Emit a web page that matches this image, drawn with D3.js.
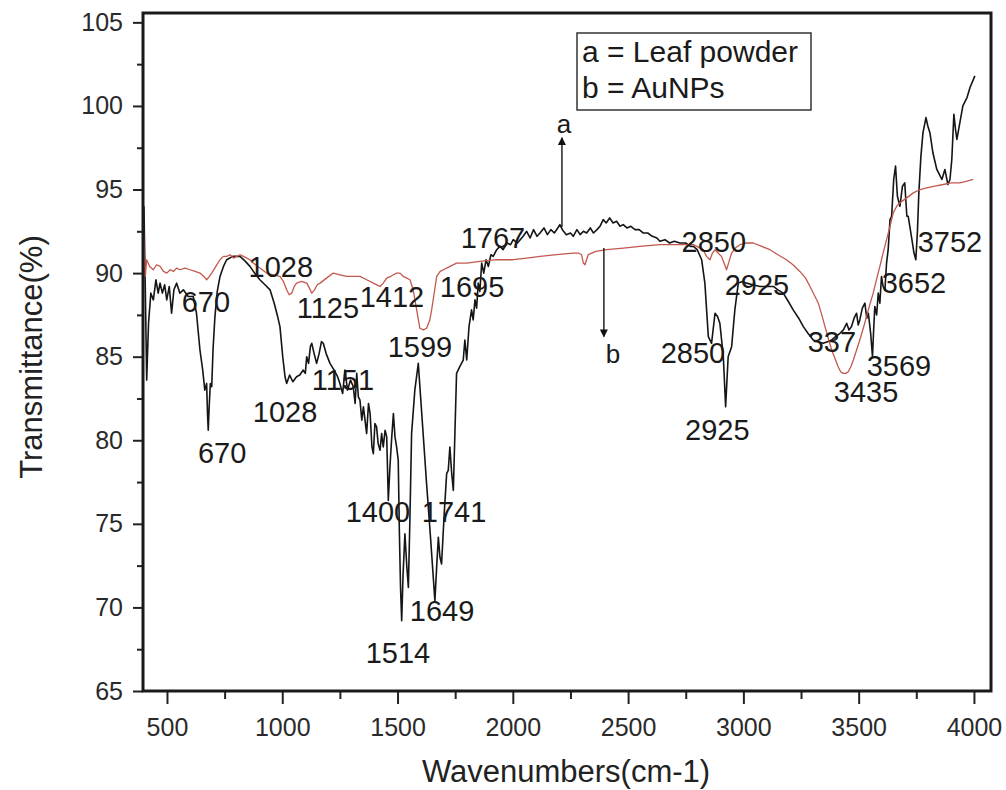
<!DOCTYPE html>
<html>
<head>
<meta charset="utf-8">
<script src="https://cdn.jsdelivr.net/npm/d3@7"></script>
<style>
  body { margin: 0; background: #fff; }
  svg { display: block; font-family: "Liberation Sans", Arial, sans-serif; }
</style>
</head>
<body>
<div id="chart"></div>
<script>
// FTIR spectra: [wavenumber, transmittance]
const leafPowder = [
  [400,94.0],[406,89.0],[412,83.6],[420,87.0],[430,88.8],[441,88.4],[452,89.6],[462,88.8],[470,89.4],[480,88.8],
  [490,89.3],[499,88.4],[510,89.2],[520,87.6],[530,89.0],[542,89.4],[556,88.8],[571,89.0],[592,88.6],[614,88.6],
  [628,87.6],[643,85.4],[655,84.2],[664,83.0],[672,83.4],[676,81.5],[679,80.6],[683,82.0],[688,83.4],[694,83.2],
  [700,85.5],[708,87.4],[718,88.9],[730,89.8],[745,90.4],[759,90.8],[785,91.0],[817,91.0],[840,90.7],[860,90.4],
  [880,90.0],[903,89.6],[925,89.3],[947,89.0],[965,88.2],[980,87.4],[990,86.8],[1002,85.0],[1012,83.8],[1019,83.4],
  [1032,83.9],[1046,83.5],[1062,83.8],[1076,83.9],[1091,84.2],[1100,84.0],[1106,85.0],[1114,84.6],[1122,85.6],[1128,85.8],
  [1138,85.2],[1149,84.6],[1160,85.2],[1170,85.9],[1178,85.8],[1190,85.2],[1207,84.6],[1225,84.2],[1240,83.8],[1250,83.4],
  [1262,82.8],[1272,84.2],[1283,83.0],[1296,83.6],[1308,83.2],[1316,82.2],[1323,84.0],[1330,82.6],[1337,82.4],[1345,81.2],
  [1352,82.0],[1366,80.4],[1374,82.2],[1381,81.6],[1389,79.6],[1395,79.2],[1402,81.0],[1409,80.8],[1416,79.8],[1424,79.4],
  [1431,80.4],[1438,79.6],[1446,80.6],[1453,80.2],[1460,76.4],[1467,78.4],[1474,80.0],[1482,81.6],[1489,80.2],[1496,79.6],
  [1503,78.8],[1508,74.5],[1513,71.2],[1518,69.2],[1524,72.0],[1532,74.4],[1540,72.5],[1547,71.2],[1554,75.5],[1561,80.4],
  [1575,83.0],[1590,84.6],[1608,81.0],[1626,77.4],[1644,74.0],[1662,70.4],[1670,72.5],[1677,74.2],[1684,73.0],[1691,72.6],
  [1702,75.5],[1713,78.0],[1720,78.2],[1727,79.6],[1735,78.0],[1742,77.0],[1749,80.5],[1756,84.0],[1770,84.4],[1785,84.8],
  [1792,86.0],[1800,84.8],[1810,86.8],[1821,87.8],[1828,87.2],[1836,88.4],[1843,87.9],[1850,89.4],[1857,88.9],[1865,90.6],
  [1874,90.0],[1884,90.8],[1894,90.4],[1905,91.1],[1915,91.0],[1930,91.4],[1944,91.6],[1958,91.4],[1975,91.8],[1990,91.7],
  [2002,92.0],[2020,91.8],[2045,92.2],[2060,92.5],[2075,92.1],[2090,92.6],[2105,92.2],[2118,92.4],[2135,92.7],[2150,92.3],
  [2165,92.6],[2180,92.4],[2195,92.7],[2204,92.9],[2215,92.6],[2232,92.3],[2250,92.4],[2262,92.2],[2278,92.6],[2292,92.3],
  [2306,92.5],[2320,92.4],[2336,92.7],[2350,92.4],[2365,92.6],[2378,92.8],[2392,93.2],[2405,93.0],[2420,93.3],[2435,93.0],
  [2450,93.1],[2465,92.8],[2479,92.9],[2495,92.7],[2512,92.8],[2530,92.6],[2548,92.6],[2565,92.4],[2585,92.4],[2605,92.2],
  [2625,92.1],[2638,91.9],[2660,92.0],[2680,91.8],[2700,91.9],[2725,91.8],[2750,91.8],[2770,91.6],[2783,91.6],[2800,91.4],
  [2819,90.8],[2833,89.4],[2848,86.2],[2862,85.8],[2877,87.6],[2888,87.4],[2898,87.0],[2913,85.0],[2923,82.0],[2934,85.0],
  [2949,85.6],[2963,87.8],[2978,89.4],[2995,89.5],[3014,89.4],[3040,89.3],[3072,89.2],[3100,89.2],[3130,89.2],[3150,89.0],
  [3173,88.8],[3195,88.3],[3216,87.8],[3240,87.3],[3260,86.8],[3280,86.4],[3303,86.0],[3325,85.9],[3346,85.8],[3365,85.9],
  [3383,86.0],[3400,86.2],[3419,86.4],[3434,86.6],[3448,87.0],[3458,86.6],[3469,86.8],[3480,87.3],[3491,87.6],[3498,86.9],
  [3505,87.2],[3516,87.9],[3527,88.2],[3535,87.3],[3542,87.6],[3552,86.4],[3560,85.0],[3565,86.6],[3570,88.0],[3578,87.5],
  [3585,88.8],[3592,88.2],[3599,89.8],[3606,89.2],[3614,89.0],[3621,90.6],[3628,91.4],[3636,93.2],[3643,93.4],[3652,95.6],
  [3660,96.4],[3668,94.6],[3679,94.0],[3690,95.2],[3700,95.4],[3709,93.4],[3715,93.4],[3731,92.0],[3740,91.2],[3748,90.8],
  [3755,92.5],[3761,94.8],[3770,97.0],[3779,98.4],[3792,99.3],[3800,98.8],[3809,98.4],[3822,97.2],[3839,96.2],[3850,95.9],
  [3861,95.6],[3874,96.2],[3887,95.3],[3896,95.6],[3904,96.8],[3913,99.5],[3920,98.6],[3926,98.0],[3939,99.0],[3952,100.0],
  [3970,100.5],[3983,101.1],[4004,101.8]
]

const auNPs = [
  [398,92.6],[402,91.0],[406,89.8],[412,90.8],[425,90.4],[441,90.2],[455,90.5],[470,90.4],[485,90.1],[499,90.0],
  [514,90.2],[528,90.1],[542,90.3],[556,90.2],[578,90.3],[600,90.2],[622,90.1],[643,90.0],[660,89.8],[672,89.6],
  [684,89.8],[694,90.0],[712,90.4],[730,90.8],[745,91.0],[759,91.0],[774,91.1],[788,90.9],[803,91.0],[817,91.1],
  [832,91.0],[846,90.9],[860,90.8],[874,90.6],[903,90.3],[932,90.0],[960,89.9],[990,89.8],[1005,89.5],[1019,89.0],
  [1030,88.7],[1041,88.8],[1052,89.2],[1062,89.4],[1084,89.5],[1106,89.4],[1118,89.1],[1128,88.8],[1140,89.0],[1152,89.3],
  [1164,89.4],[1192,89.7],[1221,90.0],[1250,89.9],[1279,89.8],[1308,89.8],[1337,89.8],[1366,89.6],[1395,89.4],[1410,89.3],
  [1424,89.2],[1438,89.4],[1453,89.7],[1470,89.8],[1482,89.9],[1496,90.0],[1511,90.0],[1525,89.8],[1540,89.7],[1554,89.6],
  [1568,89.0],[1583,87.8],[1597,86.7],[1612,86.6],[1626,86.7],[1640,87.2],[1648,87.8],[1660,88.9],[1670,89.8],[1685,90.1],
  [1699,90.2],[1728,90.4],[1756,90.6],[1800,90.6],[1857,90.7],[1930,90.8],[2002,90.8],[2060,90.9],[2118,91.0],[2190,91.1],
  [2262,91.2],[2285,91.2],[2298,91.1],[2306,90.6],[2313,90.5],[2320,90.8],[2327,91.1],[2360,91.3],[2407,91.4],[2480,91.5],
  [2551,91.6],[2638,91.7],[2700,91.7],[2783,91.7],[2826,91.4],[2840,91.0],[2855,90.8],[2866,91.2],[2877,91.4],[2890,91.2],
  [2905,91.0],[2916,90.6],[2927,90.2],[2938,90.7],[2949,91.2],[2965,91.5],[2985,91.7],[3010,91.8],[3043,91.8],[3080,91.6],
  [3115,91.4],[3150,91.1],[3187,90.8],[3215,90.5],[3245,90.1],[3270,89.7],[3289,89.2],[3307,88.7],[3325,88.2],[3340,87.5],
  [3354,86.8],[3368,86.1],[3383,85.4],[3397,84.9],[3411,84.4],[3422,84.1],[3433,84.0],[3444,84.0],[3455,84.1],[3466,84.4],
  [3477,84.8],[3491,85.4],[3505,86.0],[3520,86.7],[3534,87.4],[3548,88.1],[3563,88.8],[3577,89.6],[3592,90.4],[3606,91.2],
  [3621,92.0],[3636,92.8],[3650,93.6],[3665,94.0],[3679,94.2],[3708,94.5],[3737,94.8],[3766,95.0],[3795,95.1],[3830,95.2],
  [3867,95.3],[3900,95.4],[3939,95.4],[3970,95.5],[3997,95.6]
]

// peak labels: [text, wavenumber, transmittance] (text centre / baseline)
const peakLabels = [
  ['670',669,87.67],['670',739,78.63],['1028',994,89.77],['1028',1012,81.08],['1125',1198,87.32],
  ['1412',1476,87.98],['1151',1263,83.0],['1599',1597,84.98],['1695',1823,88.57],['1767',1914,91.5],
  ['1400',1415,75.1],['1741',1745,75.1],['1649',1693,69.2],['1514',1502,66.7],
  ['2850',2872,91.25],['2925',3059,88.7],['2850',2781,84.6],['2925',2887,80.0],
  ['337',3384,85.3],['3435',3532,82.3],['3569',3675,83.85],['3652',3740,88.8],['3752',3896,91.25]
]

// series arrows: [letter, wavenumber, from T, to T, label T]
const seriesArrows = [
  ['a', 2213, 92.76, 98.1, 98.4],
  ['b', 2395, 91.5, 86.2, 84.6]
]

const legendLines = ['a = Leaf powder', 'b = AuNPs']

const xTicks = [500,1000,1500,2000,2500,3000,3500,4000]
const xMinor = [750,1250,1750,2250,2750,3250,3750]
const yTicks = [65,70,75,80,85,90,95,100,105]
const yMinor = [67.5,72.5,77.5,82.5,87.5,92.5,97.5,102.5]

const width = 1006, height = 790
const mLeft = 143, mRight = 991, mTop = 13, mBottom = 691

const x = d3.scaleLinear().domain([396, 4074]).range([mLeft, mRight])
const y = d3.scaleLinear().domain([65, 105.56]).range([mBottom, mTop])

const svg = d3.select('#chart').append('svg')
  .attr('width', width).attr('height', height)

const defs = svg.append('defs')
defs.append('clipPath').attr('id', 'plot')
  .append('rect').attr('x', mLeft).attr('y', mTop)
  .attr('width', mRight - mLeft).attr('height', mBottom - mTop)

defs.append('marker')
  .attr('id', 'head').attr('viewBox', '0 0 10 10')
  .attr('refX', 9).attr('refY', 5)
  .attr('markerWidth', 12).attr('markerHeight', 8)
  .attr('markerUnits', 'userSpaceOnUse')
  .attr('orient', 'auto')
  .append('path').attr('d', 'M0,0 L10,5 L0,10 z').attr('fill', '#111')

// axes
const xAxis = svg.append('g').attr('transform', `translate(0,${mBottom})`)
  .call(d3.axisBottom(x).tickValues(xTicks).tickSize(13).tickPadding(14).tickFormat(d3.format('d')))
xAxis.select('.domain').remove()
xAxis.selectAll('line').attr('stroke', '#222').attr('stroke-width', 2)
xAxis.selectAll('text').attr('font-size', 25).attr('fill', '#2a2a2a')
  .attr('font-family', '"Liberation Sans", Arial, sans-serif')

svg.append('g').attr('transform', `translate(0,${mBottom})`)
  .call(d3.axisBottom(x).tickValues(xMinor).tickSize(8).tickFormat(''))
  .call(g => g.select('.domain').remove())
  .selectAll('line').attr('stroke', '#222').attr('stroke-width', 2)

const yAxis = svg.append('g').attr('transform', `translate(${mLeft},0)`)
  .call(d3.axisLeft(y).tickValues(yTicks).tickSize(10).tickPadding(10))
yAxis.select('.domain').remove()
yAxis.selectAll('line').attr('stroke', '#222').attr('stroke-width', 2)
yAxis.selectAll('text').attr('font-size', 25).attr('fill', '#2a2a2a')
  .attr('font-family', '"Liberation Sans", Arial, sans-serif')

svg.append('g').attr('transform', `translate(${mLeft},0)`)
  .call(d3.axisLeft(y).tickValues(yMinor).tickSize(6).tickFormat(''))
  .call(g => g.select('.domain').remove())
  .selectAll('line').attr('stroke', '#222').attr('stroke-width', 2)

// spectra
const line = d3.line().x(d => x(d[0])).y(d => y(d[1]))
const plot = svg.append('g').attr('clip-path', 'url(#plot)')
plot.append('path').datum(leafPowder).attr('d', line)
  .attr('fill', 'none').attr('stroke', '#151515').attr('stroke-width', 1.6)
  .attr('stroke-linejoin', 'round')
plot.append('path').datum(auNPs).attr('d', line)
  .attr('fill', 'none').attr('stroke', '#c2584e').attr('stroke-width', 1.3)
  .attr('stroke-linejoin', 'round')

// frame
svg.append('rect').attr('x', mLeft).attr('y', mTop)
  .attr('width', mRight - mLeft).attr('height', mBottom - mTop)
  .attr('fill', 'none').attr('stroke', '#1a1a1a').attr('stroke-width', 3)

// peak labels
svg.append('g').selectAll('text').data(peakLabels).join('text')
  .attr('x', d => x(d[1])).attr('y', d => y(d[2]))
  .attr('text-anchor', 'middle').attr('font-size', 29).attr('fill', '#1a1a1a')
  .text(d => d[0])

// arrows to a / b
const arr = svg.append('g').selectAll('g').data(seriesArrows).join('g')
arr.append('line')
  .attr('x1', d => x(d[1])).attr('x2', d => x(d[1]))
  .attr('y1', d => y(d[2])).attr('y2', d => y(d[3]))
  .attr('stroke', '#222').attr('stroke-width', 1.5)
  .attr('marker-end', 'url(#head)')
arr.append('text')
  .attr('x', d => x(d[1]) + (d[0] === 'b' ? 9 : 2)).attr('y', d => y(d[4]))
  .attr('text-anchor', 'middle').attr('font-size', 26).attr('fill', '#1a1a1a')
  .text(d => d[0])

// legend
const lg = svg.append('g')
lg.append('rect').attr('x', 577).attr('y', 33).attr('width', 234).attr('height', 77)
  .attr('fill', '#fff').attr('stroke', '#333').attr('stroke-width', 1.5)
lg.selectAll('text').data(legendLines).join('text')
  .attr('x', 582).attr('y', (d, i) => 62 + i * 36)
  .attr('font-size', 30).attr('fill', '#1a1a1a')
  .text(d => d)

// titles
svg.append('text').attr('x', (mLeft + mRight) / 2 - 1).attr('y', 782)
  .attr('text-anchor', 'middle').attr('font-size', 31).attr('fill', '#222')
  .text('Wavenumbers(cm-1)')
svg.append('text')
  .attr('transform', `translate(42,${(mTop + mBottom) / 2 + 5}) rotate(-90)`)
  .attr('text-anchor', 'middle').attr('font-size', 31).attr('fill', '#222')
  .text('Transmittance(%)')
</script>
</body>
</html>
